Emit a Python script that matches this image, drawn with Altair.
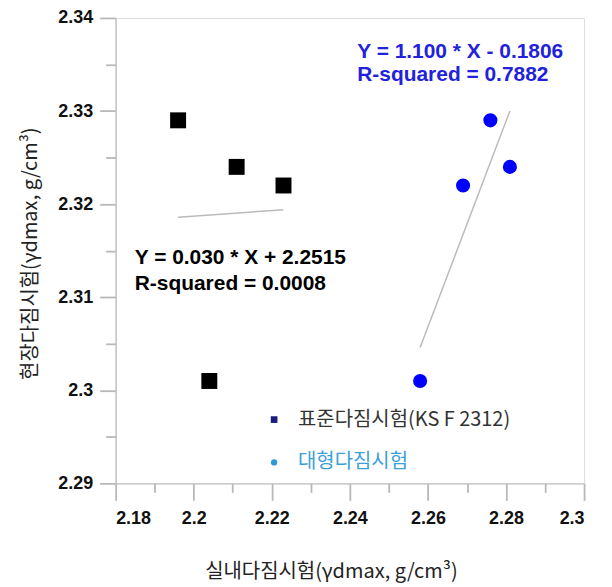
import altair as alt
import pandas as pd

std_name = "표준다짐시험(KS F 2312)"
large_name = "대형다짐시험"

# measured points
std_x = [2.196, 2.211, 2.223, 2.204]
std_y = [2.329, 2.324, 2.322, 2.301]
large_x = [2.276, 2.281, 2.269, 2.258]
large_y = [2.329, 2.324, 2.322, 2.301]

# regression lines (end points as drawn)
std_fit_x = [2.196, 2.223]
std_fit_y = [2.3186, 2.3194]
large_fit_x = [2.258, 2.281]
large_fit_y = [2.3046, 2.3300]

# annotations
ann_text = ["Y = 1.100 * X - 0.1806", "R-squared = 0.7882",
            "Y = 0.030 * X + 2.2515", "R-squared = 0.0008"]
ann_x = [2.2419, 2.2419, 2.1849, 2.1849]
ann_y = [2.33573, 2.33324, 2.31354, 2.31080]
ann_group = ["large", "large", "std", "std"]

# ticks
x_major = [2.18, 2.2, 2.22, 2.24, 2.26, 2.28, 2.3]
x_minor = [2.19, 2.21, 2.23, 2.25, 2.27, 2.29]
y_major = [2.29, 2.3, 2.31, 2.32, 2.33, 2.34]
y_minor = [2.295, 2.305, 2.315, 2.325, 2.335]

std_df = pd.DataFrame({"x": std_x, "y": std_y, "series": std_name})
large_df = pd.DataFrame({"x": large_x, "y": large_y, "series": large_name})
fit_df = pd.concat([
    pd.DataFrame({"x": std_fit_x, "y": std_fit_y, "g": "std"}),
    pd.DataFrame({"x": large_fit_x, "y": large_fit_y, "g": "large"}),
])
ann_df = pd.DataFrame({"x": ann_x, "y": ann_y, "t": ann_text, "g": ann_group})

xs = alt.Scale(domain=[2.18, 2.3], nice=False, zero=False)
ys = alt.Scale(domain=[2.29, 2.34], nice=False, zero=False)

GRAY = "#c4c4c4"
TICK = "#b8b8b8"
x_title = "실내다짐시험(γdmax, g/cm³)"
y_title = "현장다짐시험(γdmax, g/cm³)"

major = alt.Chart(std_df).mark_point(opacity=0).encode(
    x=alt.X("x:Q", scale=xs, axis=alt.Axis(
        orient="bottom", values=x_major, format="~g", grid=False, ticks=True,
        tickSize=17, tickColor=TICK, tickWidth=1.8, domainColor=GRAY, domainWidth=1.5,
        labelFont="Liberation Sans", labelFontWeight="bold", labelFontSize=18,
        labelColor="#111111", labelPadding=9,
        title=x_title, titleFont="Noto Sans CJK KR", titleFontSize=20,
        titleFontWeight="normal", titleColor="#222222",
        titleX=216, titleY=88, titleAlign="center", titleBaseline="middle")),
    y=alt.Y("y:Q", scale=ys, axis=alt.Axis(
        orient="left", values=y_major, format="~g", grid=False, ticks=True,
        tickSize=16, tickColor=TICK, tickWidth=1.8, domainColor=GRAY, domainWidth=1.5,
        labelFont="Liberation Sans", labelFontWeight="bold", labelFontSize=18,
        labelColor="#111111", labelPadding=7,
        title=y_title, titleFont="Noto Sans CJK KR", titleFontSize=20,
        titleFontWeight="normal", titleColor="#222222",
        titleX=-85, titleY=236, titleAngle=270, titleAlign="center",
        titleBaseline="middle")),
)

minor = alt.Chart(std_df).mark_point(opacity=0).encode(
    x=alt.X("x:Q", scale=xs, axis=alt.Axis(
        orient="bottom", values=x_minor, labels=False, domain=False, grid=False,
        ticks=True, tickSize=9, tickColor=TICK, tickWidth=1.8, title=None)),
    y=alt.Y("y:Q", scale=ys, axis=alt.Axis(
        orient="left", values=y_minor, labels=False, domain=False, grid=False,
        ticks=True, tickSize=10, tickColor=TICK, tickWidth=1.8, title=None)),
)

lines = alt.Chart(fit_df).mark_line(color="#bbbbbb", strokeWidth=1.5).encode(
    x=alt.X("x:Q", scale=xs, axis=None),
    y=alt.Y("y:Q", scale=ys, axis=None),
    detail="g:N",
)

squares = alt.Chart(std_df).mark_square(size=256, color="#000000", opacity=1).encode(
    x=alt.X("x:Q", scale=xs, axis=None),
    y=alt.Y("y:Q", scale=ys, axis=None),
)

circles = alt.Chart(large_df).mark_circle(size=200, color="#0000ff", opacity=1).encode(
    x=alt.X("x:Q", scale=xs, axis=None),
    y=alt.Y("y:Q", scale=ys, axis=None),
)

texts = alt.Chart(ann_df).mark_text(
    align="left", baseline="alphabetic", font="Liberation Sans",
    fontWeight="bold", fontSize=21
).encode(
    x=alt.X("x:Q", scale=xs, axis=None),
    y=alt.Y("y:Q", scale=ys, axis=None),
    text="t:N",
    color=alt.Color("g:N", scale=alt.Scale(domain=["large", "std"],
                                           range=["#2222dd", "#000000"]), legend=None),
)

legA = alt.Chart(std_df).mark_point(filled=True, opacity=0).encode(
    x=alt.X("x:Q", scale=xs, axis=None),
    y=alt.Y("y:Q", scale=ys, axis=None),
    fill=alt.Fill("series:N", scale=alt.Scale(domain=[std_name], range=["#1c1c7c"]),
                  legend=alt.Legend(title=None, orient="none", legendX=149, legendY=393,
                                    symbolType="square", symbolSize=45, symbolOpacity=1,
                                    symbolStrokeWidth=0, labelFont="Noto Sans CJK KR",
                                    labelFontSize=20, labelColor="#333333",
                                    labelOffset=14, padding=0, labelLimit=400)),
)

legB = alt.Chart(large_df).mark_point(filled=True, opacity=0).encode(
    x=alt.X("x:Q", scale=xs, axis=None),
    y=alt.Y("y:Q", scale=ys, axis=None),
    fill=alt.Fill("series:N", scale=alt.Scale(domain=[large_name], range=["#2e9bd6"]),
                  legend=alt.Legend(title=None, orient="none", legendX=149, legendY=436,
                                    symbolType="circle", symbolSize=40, symbolOpacity=1,
                                    symbolStrokeWidth=0, labelFont="Noto Sans CJK KR",
                                    labelFontSize=20, labelColor="#3d9fd8",
                                    labelOffset=14, padding=0, labelLimit=400)),
)

chart = alt.layer(major, minor, lines, squares, circles, texts, legA, legB).resolve_scale(
    fill="independent"
).resolve_legend(fill="independent").resolve_axis(
    x="independent", y="independent"
).properties(
    width=470, height=467,
    autosize=alt.AutoSizeParams(type="none"),
    padding={"left": 108, "top": 9, "right": 20, "bottom": 103},
).configure_view(stroke=GRAY, strokeWidth=1.5).configure(background="white")

chart.save("out.html", embed_options={"renderer": "svg", "actions": False})
